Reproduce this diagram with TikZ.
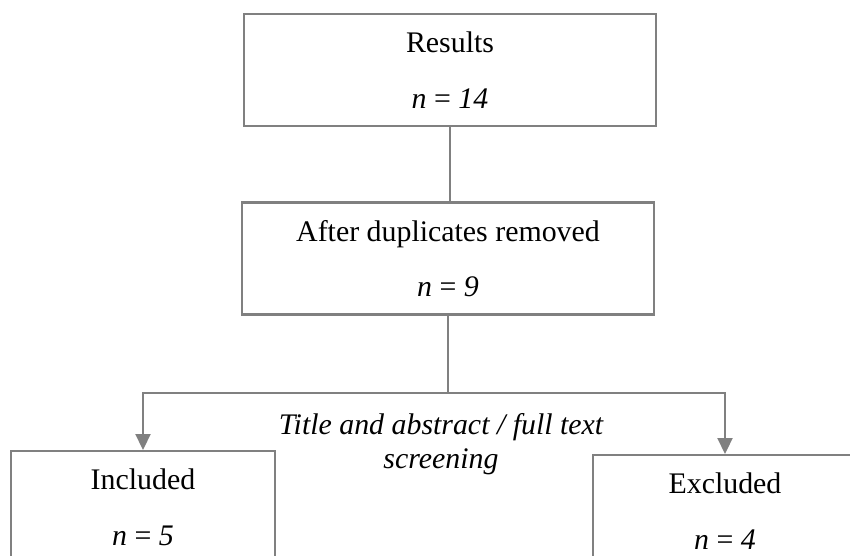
\documentclass[tikz,border=0pt]{standalone}
\usepackage{fontspec}
\setmainfont{Liberation Serif}
\usetikzlibrary{arrows.meta}
\definecolor{linegray}{RGB}{128,128,128}

\begin{document}
\begin{tikzpicture}[
  box/.style={draw=linegray, line width=1.2pt, align=center, inner sep=0pt,
    minimum width=8.24cm, minimum height=2.24cm,
    font=\fontsize{17}{31.7}\selectfont},
  smallbox/.style={box, minimum width=5.28cm},
  link/.style={draw=linegray, line width=1.2pt},
  arrow/.style={link, -{Triangle[length=9pt,width=8.5pt]}}
]
  \useasboundingbox (0,0) rectangle (17,11.1);
  \clip (0,0) rectangle (17,11.1);

  % Boxes of the flow
  \node[box] (results) at (9.0,9.70) {Results\\\textit{n} = \textit{14}};
  \node[box] (dup) at (8.96,5.93) {After duplicates removed\\\textit{n} = \textit{9}};
  \node[smallbox] (incl) at (2.86,0.96) {Included\\\textit{n} = \textit{5}};
  \node[smallbox] (excl) at (14.5,0.88) {Excluded\\\textit{n} = \textit{4}};

  % Screening step
  \node[align=center, font=\fontsize{17}{19.3}\selectfont\itshape] (screen) at (8.82,2.21)
    {Title and abstract / full text\\screening};

  % Connectors
  \coordinate (split) at (dup.south |- 0,3.24);
  \draw[link] (results.south) -- (results.south |- dup.north);
  \draw[link] (dup.south) -- (split);
  \draw[arrow] (split) -| (incl.north);
  \draw[arrow] (split) -| (excl.north);
\end{tikzpicture}
\end{document}
